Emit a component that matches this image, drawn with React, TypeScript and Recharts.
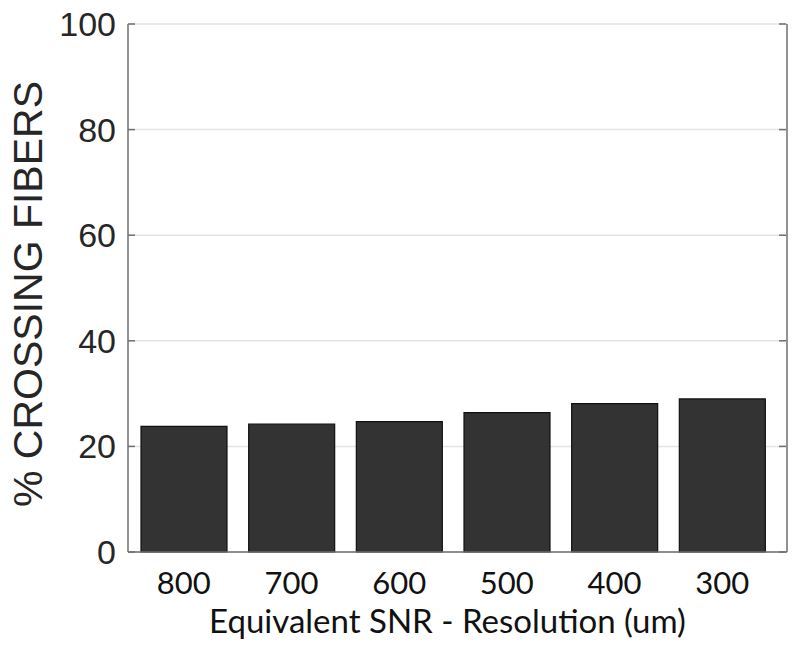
import React from "react";
import { ComposedChart, Bar, Line, XAxis, YAxis, CartesianGrid, Label } from "recharts";

const categories = ["800", "700", "600", "500", "400", "300"];
const crossingValues = [23.8, 24.2, 24.7, 26.4, 28.1, 29.0];
const yTicks = [0, 20, 40, 60, 80, 100];

const data = categories.map((c, i) => ({ name: c, value: crossingValues[i] }));

const FRAME = "#6f6f6f";
const SANS = "'Liberation Sans', Arial, Helvetica, sans-serif";
const CAL = "Lato, 'Open Sans', sans-serif";

const LeftTick = (props: any) => {
  const { x, y, payload } = props;
  return (
    <g>
      <line x1={x + 12} y1={y} x2={x + 19} y2={y} stroke={FRAME} strokeWidth={1.5} />
      <text x={x} y={y} dy={12} textAnchor="end" fontFamily={SANS} fontSize={34} fill="#262626">
        {payload.value}
      </text>
    </g>
  );
};

const RightTick = (props: any) => {
  const { x, y } = props;
  return <line x1={x - 8} y1={y} x2={x - 1} y2={y} stroke={FRAME} strokeWidth={1.5} />;
};

export default function App() {
  return (
    <div style={{ position: "absolute", left: 0, top: 0, background: "#fff" }}>
      <ComposedChart
        width={800}
        height={652}
        data={data}
        margin={{ top: 24, right: 12, left: 0, bottom: 19 }}
        barSize={86}
      >
        <CartesianGrid vertical={false} stroke="#e4e4e4" strokeWidth={1.5} />
        <XAxis
          dataKey="name"
          height={81}
          padding={{ left: 2, right: 11 }}
          axisLine={{ stroke: FRAME, strokeWidth: 1.5 }}
          tickLine={false}
          tickSize={0}
          tickMargin={20}
          tick={{ fontFamily: CAL, fontSize: 31, fill: "#111" }}
          interval={0}
        >
          <Label
            content={(p: any) => {
              const vb = p.viewBox || {};
              const cx = vb.x + vb.width / 2 - 10;
              const cy = vb.y + vb.height;
              return (
                <text x={cx} y={cy} textAnchor="middle" fontFamily={CAL} fontSize={33} fill="#111">
                  Equivalent SNR - Resolution (um)
                </text>
              );
            }}
          />
        </XAxis>
        <XAxis
          xAxisId="top"
          dataKey="name"
          orientation="top"
          height={0}
          axisLine={{ stroke: FRAME, strokeWidth: 1.5 }}
          tick={false}
          tickLine={false}
        />
        <YAxis
          domain={[0, 100]}
          ticks={yTicks}
          width={128}
          axisLine={{ stroke: FRAME, strokeWidth: 1.5 }}
          tickLine={false}
          tickSize={0}
          tickMargin={12}
          tick={<LeftTick />}
          interval={0}
        >
          <Label
            content={(p: any) => {
              const vb = p.viewBox || {};
              const cx = vb.x + 42;
              const cy = vb.y + vb.height / 2 + 6;
              return (
                <text
                  x={cx}
                  y={cy}
                  transform={`rotate(-90 ${cx} ${cy})`}
                  textAnchor="middle"
                  fontFamily={SANS}
                  fontSize={41}
                  fill="#262626"
                >
                  % CROSSING FIBERS
                </text>
              );
            }}
          />
        </YAxis>
        <YAxis
          yAxisId="right"
          orientation="right"
          domain={[0, 100]}
          ticks={yTicks}
          width={1}
          axisLine={{ stroke: FRAME, strokeWidth: 1.5 }}
          tickLine={false}
          tickSize={0}
          tickMargin={0}
          tick={<RightTick />}
          interval={0}
        />
        <Bar dataKey="value" fill="#333333" stroke="#111111" strokeWidth={1.2} isAnimationActive={false} />
        <Line
          xAxisId="top"
          yAxisId="right"
          dataKey="value"
          stroke="none"
          dot={false}
          activeDot={false}
          legendType="none"
          isAnimationActive={false}
        />
      </ComposedChart>
    </div>
  );
}
